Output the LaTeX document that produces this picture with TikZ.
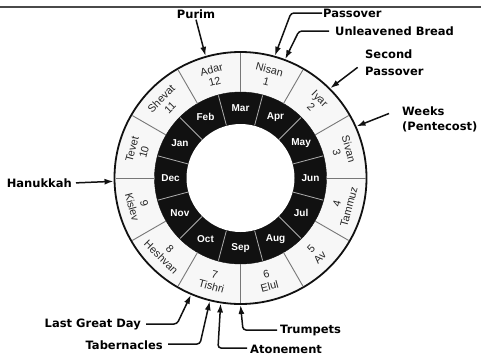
\documentclass[tikz,border=0pt]{standalone}
\usepackage{fontspec}
\setmainfont{Liberation Sans}
\newfontfamily\callfont{DejaVu Sans}
\usepackage{xcolor}
\usetikzlibrary{arrows.meta}
\definecolor{hblack}{HTML}{111111}
\definecolor{hgray}{HTML}{777777}
\definecolor{hrule}{HTML}{4A4A4A}
\definecolor{hpale}{HTML}{F7F7F7}
\definecolor{htext}{HTML}{262626}
\tikzset{
	callout/.style = {font = \callfont\bfseries\fontsize{11.5}{17}\selectfont, inner sep = 1pt},
	pointer/.style = {line width = 1.5pt, draw = hblack, rounded corners = 3pt, -{Latex[length=9pt,width=6pt]}},
	hebmonth/.style = {font = \fontsize{10.8}{12.5}\selectfont, text = htext, align = center, inner sep = 0pt},
	civmonth/.style = {font = \bfseries\fontsize{10}{12}\selectfont, text = white, inner sep = 0pt}
}

\begin{document}
\begin{tikzpicture}[x=1pt, y=1pt]
		\useasboundingbox (0,0) rectangle (481,-356);
		% top rule
		\draw[line width = 2.2pt, draw = hrule] (0,-7) -- (481,-7);
		\begin{scope}[shift = {(240.5,-178)}]
			% wheel
			\draw[line width = 1.8pt, draw = hblack, fill = hpale] (0,0) circle (126);
			\draw[draw = hblack, fill = hblack] (0,0) circle (86);
			\draw[draw = none, fill = white] (0,0) circle (54);
			\foreach \a in {0,30,...,330}
				\draw[draw = hgray, line width = 0.9pt] (\a:86) -- (\a:125);
			\foreach \a in {15,45,...,345}
				\draw[draw = hgray!60, line width = 0.8pt] (\a:54.5) -- (\a:85.5);
			% hebrew months
			\foreach \a/\n/\m in {75/Nisan/1, 45/Iyar/2, 15/Sivan/3, 105/Adar/12, 135/Shevat/11, 165/Tevet/10}
				\node[hebmonth, rotate = \a-90] (heb-\m) at (\a:106) {\n\\\m};
			\foreach \a/\n/\m in {-15/Tammuz/4, -45/Av/5, -75/Elul/6, -105/Tishri/7, -135/Heshvan/8, -165/Kislev/9}
				\node[hebmonth, rotate = \a+90] (heb-\m) at (\a:106) {\m\\\n};
			% civil months
			\foreach \a/\n in {90/Mar, 60/Apr, 30/May, 0/Jun, -30/Jul, -60/Aug, -90/Sep, -120/Oct, -150/Nov, 180/Dec, 150/Jan, 120/Feb}
				\node[civmonth] (civ-\n) at (\a:70) {\n};
			% feast points on the rim
			\coordinate (purim-pt) at (106:127);
			\coordinate (passover-pt) at (74.3:127);
			\coordinate (bread-pt) at (69.4:127);
			\coordinate (second-pt) at (45:127);
			\coordinate (weeks-pt) at (24:127);
			\coordinate (hanukkah-pt) at (181.5:127);
			\coordinate (lastday-pt) at (-113:127);
			\coordinate (booths-pt) at (-104:127);
			\coordinate (atone-pt) at (-99:127);
			\coordinate (trumpets-pt) at (-90:127);
		\end{scope}
		% feasts
		\node[callout] (purim) at (196,-14) {Purim};
		\node[callout, anchor = west] (passover) at (322,-13) {Passover};
		\node[callout, anchor = west] (bread) at (334,-31) {Unleavened Bread};
		\node[callout, anchor = west, align = left] (second) at (364,-62.5) {Second\\Passover};
		\node[callout, anchor = west, align = left, font = \callfont\bfseries\fontsize{11.5}{15}\selectfont] (weeks) at (401,-119.5) {Weeks\\(Pentecost)};
		\node[callout, anchor = east] (hanukkah) at (73,-183) {Hanukkah};
		\node[callout, anchor = east] (lastday) at (142,-324) {Last Great Day};
		\node[callout, anchor = east] (booths) at (164,-345) {Tabernacles};
		\node[callout, anchor = west] (atone) at (249,-349) {Atonement};
		\node[callout, anchor = west] (trumpets) at (279,-330) {Trumpets};
		\draw[pointer] (purim.south) -- (purim-pt);
		\draw[pointer] (passover.west) -- ++(-31,0) -- (passover-pt);
		\draw[pointer] ([xshift = -5pt]bread.west) -- ++(-30,0) -- (bread-pt);
		\draw[pointer, shorten < = 8pt] (second.west) -- (second-pt);
		\draw[pointer] ([xshift = -12pt, yshift = 6pt]weeks.west) -- (weeks-pt);
		\draw[pointer, shorten < = 3pt] (hanukkah.east) -- (hanukkah-pt);
		\draw[pointer] ([xshift = 4pt]lastday.east) -- ++(31,0) -- (lastday-pt);
		\draw[pointer] ([xshift = 4pt, yshift = 1pt]booths.east) -- ++(32,0) -- (booths-pt);
		\draw[pointer] ([xshift = -2pt, yshift = 1pt]atone.west) -- ++(-29,0) -- (atone-pt);
		\draw[pointer] ([xshift = -2pt]trumpets.west) -- ++(-34,0) -- (trumpets-pt);
	\end{tikzpicture}
\end{document}
